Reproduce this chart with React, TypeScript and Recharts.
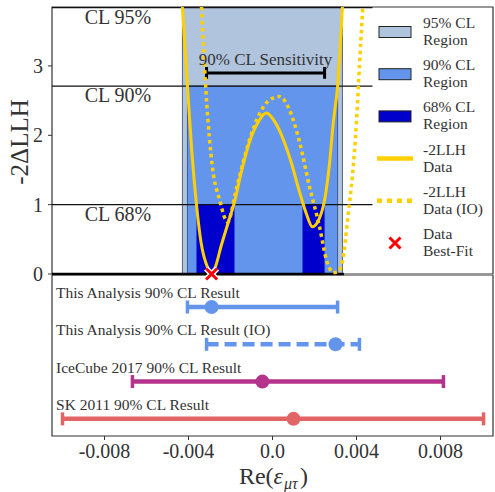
import {
  ComposedChart,
  Line,
  Scatter,
  XAxis,
  YAxis,
  ReferenceArea,
  ReferenceLine,
  ReferenceDot,
  Label,
  Cell,
} from 'recharts';

// -2LLH scan (normal ordering)
const llhX = [
  -0.00429, -0.00405, -0.00385, -0.00362, -0.0034, -0.0031, -0.0029, -0.0027, -0.00245, -0.0021,
  -0.0018, -0.0015, -0.0011, -0.0007, -0.0003, 0.0001, 0.0005, 0.0009, 0.0013, 0.0016, 0.0019,
  0.0022, 0.0025, 0.0027, 0.0029, 0.0031, 0.00333,
];
const llhY = [
  3.85, 2.71, 1.8, 1.0, 0.45, 0.1, 0.0, 0.12, 0.4, 0.75, 1.05, 1.45, 1.9, 2.18, 2.32, 2.2, 1.95,
  1.6, 1.17, 0.88, 0.68, 0.78, 1.1, 1.55, 2.2, 2.71, 3.85,
];

// -2LLH scan (inverted ordering)
const ioX = [
  -0.00338, -0.00314, -0.00286, -0.00252, -0.00214, -0.0017, -0.0011, -0.0006, -0.00014, 0.00033,
  0.0008, 0.0013, 0.00176, 0.00224, 0.00257, 0.0029, 0.0031, 0.00333, 0.0036, 0.0038, 0.004,
  0.00414, 0.0043,
];
const ioY = [
  3.85, 2.5, 1.54, 1.07, 0.75, 1.26, 1.93, 2.32, 2.51, 2.56, 2.37, 1.89, 1.26, 0.68, 0.2, 0.02,
  0.03, 0.18, 0.85, 1.4, 2.2, 3.0, 3.85,
];

const region95 = [-0.00429, 0.00333];
const region90 = [-0.00405, 0.0031];
const region68a = [-0.00362, -0.00181];
const region68b = [0.00143, 0.00248];

const clLevels = [3.84, 2.71, 1.0];
const clNames = ['CL 95%', 'CL 90%', 'CL 68%'];

const sensitivityRange = [-0.00314, 0.00248];
const sensitivityLevel = 2.9;
const bestFit = -0.0029;

const resultNames = [
  'This Analysis 90% CL Result',
  'This Analysis 90% CL Result (IO)',
  'IceCube 2017 90% CL Result',
  'SK 2011 90% CL Result',
];
const resultLow = [-0.00405, -0.00314, -0.00667, -0.0100];
const resultHigh = [0.0031, 0.00414, 0.00814, 0.01005];
const resultBest = [-0.0029, 0.003, -0.00048, 0.001];

const xTicks = [-0.008, -0.004, 0, 0.004, 0.008];
const yTicks = [0, 1, 2, 3];

const X_DOMAIN: [number, number] = [-0.0105, 0.0105];
const ROW_DOMAIN: [number, number] = [-0.86, 3.46];
const CL_RIGHT = 0.00476;

const GOLD = '#ffd000';
const C95 = '#b0c4de';
const C90 = '#6495ed';
const C68 = '#0000cd';
const resultColors = ['#6495ed', '#6495ed', '#b5338a', '#e36464'];
const resultDashes = [undefined, '12 6', undefined, undefined];
const TEXT = '#333';
const FONT = '"Liberation Serif", "DejaVu Serif", serif';

const llhData = llhX.map((x, i) => ({ x, y: llhY[i] }));
const ioData = ioX.map((x, i) => ({ x, y: ioY[i] }));

const CrossMark = (props: any) => {
  const { cx, cy } = props;
  const a = 5.5;
  const d = `M${cx - a},${cy - a}L${cx + a},${cy + a}M${cx - a},${cy + a}L${cx + a},${cy - a}`;
  return (
    <g>
      <path d={d} stroke="#fff" strokeWidth={6} />
      <path d={d} stroke="#ff0000" strokeWidth={3} />
    </g>
  );
};

const clLabel = (text: string) => (props: any) => {
  const { viewBox } = props;
  return (
    <text x={viewBox.x + 66} y={viewBox.y + 16} textAnchor="middle" fontSize={20} fill={TEXT} fontFamily={FONT}>
      {text}
    </text>
  );
};

const rowLabel = (text: string) => (props: any) => {
  const { viewBox } = props;
  return (
    <text x={viewBox.x} y={viewBox.y + viewBox.height / 2 - 9} fontSize={15.5} fill={TEXT} fontFamily={FONT}>
      {text}
    </text>
  );
};

function TopPanel() {
  // svg is taller than the panel so the "0" tick label is not cut off
  return (
    <ComposedChart width={495} height={296} margin={{ top: 7, right: 2, bottom: 22, left: 0 }}>
      <XAxis type="number" dataKey="x" domain={X_DOMAIN} hide />
      <YAxis
        type="number"
        dataKey="y"
        domain={[0, 3.85]}
        ticks={yTicks}
        width={52}
        tickSize={4}
        tickMargin={5}
        axisLine={false}
        tickLine={{ stroke: TEXT }}
        tick={{ fontSize: 20, fill: TEXT, fontFamily: FONT }}
      >
        <Label
          content={() => (
            <text x={28} y={142} transform="rotate(-90, 28, 142)" textAnchor="middle" fontSize={25} fill={TEXT} fontFamily={FONT}>
              -2ΔLLH
            </text>
          )}
        />
      </YAxis>

      <ReferenceArea x1={region95[0]} x2={region95[1]} y1={0} y2={3.85} fill={C95} fillOpacity={1} stroke="#56627a" strokeWidth={1} />
      <ReferenceArea x1={region90[0]} x2={region90[1]} y1={0} y2={2.71} fill={C90} fillOpacity={1} stroke="#3e5a8e" strokeWidth={1} />
      <ReferenceArea x1={region68a[0]} x2={region68a[1]} y1={0} y2={1} fill={C68} fillOpacity={1} />
      <ReferenceArea x1={region68b[0]} x2={region68b[1]} y1={0} y2={1} fill={C68} fillOpacity={1} />

      {clLevels.map((lvl, i) => (
        <ReferenceLine
          key={clNames[i]}
          segment={[{ x: X_DOMAIN[0], y: lvl }, { x: CL_RIGHT, y: lvl }]}
          stroke="#111"
          strokeWidth={1.3}
          label={clLabel(clNames[i])}
        />
      ))}

      <ReferenceLine
        segment={[{ x: sensitivityRange[0], y: sensitivityLevel }, { x: sensitivityRange[1], y: sensitivityLevel }]}
        stroke="#000"
        strokeWidth={3}
        label={{ value: '90% CL Sensitivity', position: 'top', offset: 8, fontSize: 17, fill: TEXT, fontFamily: FONT }}
      />
      {sensitivityRange.map((x) => (
        <ReferenceLine
          key={x}
          segment={[{ x, y: sensitivityLevel - 0.085 }, { x, y: sensitivityLevel + 0.085 }]}
          stroke="#000"
          strokeWidth={3}
        />
      ))}

      <ReferenceLine segment={[{ x: X_DOMAIN[0], y: 0 }, { x: 0.0034, y: 0 }]} stroke="#000" strokeWidth={2.5} />

      <Line data={ioData} dataKey="y" type="monotone" stroke={GOLD} strokeWidth={3.5} strokeDasharray="3.5 3.5" dot={false} isAnimationActive={false} />
      <Line data={llhData} dataKey="y" type="monotone" stroke={GOLD} strokeWidth={3} dot={false} isAnimationActive={false} />
      <Scatter data={[{ x: bestFit, y: 0 }]} dataKey="y" shape={CrossMark} isAnimationActive={false} />

      <ReferenceArea x1={X_DOMAIN[0]} x2={X_DOMAIN[1]} y1={0} y2={3.85} fill="none" stroke={TEXT} strokeWidth={1.2} />
    </ComposedChart>
  );
}

function BottomPanel() {
  return (
    <ComposedChart width={495} height={217} margin={{ top: 0, right: 2, bottom: 0, left: 52 }}>
      <XAxis
        type="number"
        dataKey="x"
        domain={X_DOMAIN}
        ticks={xTicks}
        interval={0}
        height={56}
        tickSize={4}
        tickMargin={4}
        axisLine={false}
        tickLine={{ stroke: TEXT }}
        tick={{ fontSize: 20, fill: TEXT, fontFamily: FONT }}
        tickFormatter={(v: number) => (v === 0 ? '0.0' : v.toFixed(3))}
      >
        <Label
          content={() => (
            <g fill={TEXT} fontFamily={FONT}>
              <text x={283} y={209} textAnchor="end" fontSize={24}>
                Re(<tspan fontStyle="italic">ε</tspan>
              </text>
              <text x={284} y={214} fontSize={16} fontStyle="italic">
                μτ
              </text>
              <text x={300} y={209} fontSize={24}>
                )
              </text>
            </g>
          )}
        />
      </XAxis>
      <YAxis type="number" dataKey="y" domain={ROW_DOMAIN} reversed hide />

      {resultNames.map((name, i) => (
        <ReferenceDot key={name} x={-0.01026} y={i} r={1} fill="none" stroke="none" label={rowLabel(name)} />
      ))}

      {resultNames.map((name, i) => (
        <Line
          key={'bar-' + name}
          data={[{ x: resultLow[i], y: i }, { x: resultHigh[i], y: i }]}
          dataKey="y"
          type="linear"
          stroke={resultColors[i]}
          strokeWidth={4.5}
          strokeDasharray={resultDashes[i]}
          isAnimationActive={false}
          dot={(p: any) => (
            <line key={`cap-${i}-${p.index}`} x1={p.cx} x2={p.cx} y1={p.cy - 6.5} y2={p.cy + 6.5} stroke={resultColors[i]} strokeWidth={3.5} />
          )}
        />
      ))}

      <Scatter
        data={resultBest.map((x, i) => ({ x, y: i }))}
        dataKey="y"
        isAnimationActive={false}
        shape={(p: any) => <circle cx={p.cx} cy={p.cy} r={7} fill={p.fill} />}
      >
        {resultBest.map((_, i) => (
          <Cell key={i} fill={resultColors[i]} />
        ))}
      </Scatter>

      <ReferenceArea x1={X_DOMAIN[0]} x2={X_DOMAIN[1]} y1={ROW_DOMAIN[0]} y2={ROW_DOMAIN[1]} fill="none" stroke={TEXT} strokeWidth={1.2} />
    </ComposedChart>
  );
}

const legendItems = [
  { kind: 'patch', color: C95, text: ['95% CL', 'Region'] },
  { kind: 'patch', color: C90, text: ['90% CL', 'Region'] },
  { kind: 'patch', color: C68, text: ['68% CL', 'Region'] },
  { kind: 'line', color: GOLD, text: ['-2LLH', 'Data'] },
  { kind: 'dots', color: GOLD, text: ['-2LLH', 'Data (IO)'] },
  { kind: 'cross', color: '#ff0000', text: ['Data', 'Best-Fit'] },
];

function LegendBox() {
  return (
    <svg width={119} height={265} style={{ position: 'absolute', left: 373, top: 8, background: '#fff' }}>
      {legendItems.map((item, i) => {
        const cy = 24 + i * 42.2;
        return (
          <g key={i}>
            {item.kind === 'patch' && (
              <rect x={6} y={cy - 5.5} width={32} height={11} fill={item.color} stroke="#222" strokeWidth={1} />
            )}
            {item.kind === 'line' && <line x1={4} x2={40} y1={cy} y2={cy} stroke={item.color} strokeWidth={4.5} />}
            {item.kind === 'dots' && (
              <line x1={4} x2={40} y1={cy} y2={cy} stroke={item.color} strokeWidth={4.5} strokeDasharray="5 5" />
            )}
            {item.kind === 'cross' && <CrossMark cx={22} cy={cy} />}
            <text x={50} y={cy - 4} fontSize={15.5} fill={TEXT} fontFamily={FONT}>
              {item.text[0]}
            </text>
            <text x={50} y={cy + 13} fontSize={15.5} fill={TEXT} fontFamily={FONT}>
              {item.text[1]}
            </text>
          </g>
        );
      })}
    </svg>
  );
}

export default function App() {
  return (
    <div style={{ position: 'absolute', left: 0, top: 0, width: 495, height: 492, background: '#fff', fontFamily: FONT }}>
      <div style={{ position: 'absolute', left: 0, top: 275 }}>
        <BottomPanel />
      </div>
      <div style={{ position: 'absolute', left: 0, top: 0 }}>
        <TopPanel />
      </div>
      <LegendBox />
    </div>
  );
}
